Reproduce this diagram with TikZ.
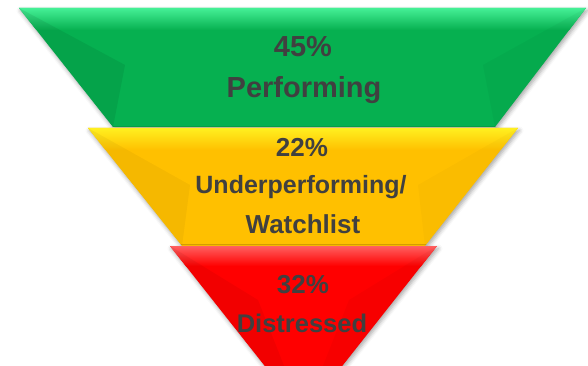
\documentclass[tikz,border=0pt]{standalone}
\usepackage{fontspec}
\setmainfont{Liberation Sans}
\usetikzlibrary{shadows.blur}

\definecolor{txtgray}{HTML}{404040}
\definecolor{perfgreen}{HTML}{06B050}
\definecolor{perfgreenhi}{HTML}{45F096}
\definecolor{watchyellow}{HTML}{FFC000}
\definecolor{watchyellowhi}{HTML}{FFF020}
\definecolor{distred}{HTML}{FF0000}
\definecolor{distredhi}{HTML}{FF6060}

\tikzset{
  layer/.style={blur shadow={shadow xshift=1.5pt, shadow yshift=-2.5pt,
      shadow blur radius=4pt, shadow opacity=35}},
  facet/.style={fill=black, fill opacity=#1},
  lbl/.style={text=txtgray, font=\bfseries, anchor=base, inner sep=0pt},
}

\begin{document}
\begin{tikzpicture}[x=1pt, y=-1pt]
    \useasboundingbox (0,0) rectangle (588,366);
    \clip (0,0) rectangle (588,366);

    % top band: performing
    \fill[perfgreen, layer] (19,8) -- (586,8) -- (495,127) -- (113,127) -- cycle;
    \begin{scope}
        \clip (19,8) -- (586,8) -- (495,127) -- (113,127) -- cycle;
        \shade[top color=perfgreenhi, bottom color=perfgreen] (0,8) rectangle (588,30);
        \fill[facet=.07] (19,8) -- (125,65) -- (113,127) -- cycle;
        \fill[facet=.03] (586,8) -- (483,65) -- (495,127) -- cycle;
    \end{scope}

    % middle band: underperforming
    \fill[watchyellow, layer] (88,128) -- (518,128) -- (425,246) -- (182,246) -- cycle;
    \begin{scope}
        \clip (88,128) -- (518,128) -- (425,246) -- (182,246) -- cycle;
        \shade[top color=watchyellowhi, bottom color=watchyellow] (0,128) rectangle (588,150);
        \fill[facet=.04] (88,128) -- (190,185) -- (182,246) -- cycle;
        \fill[facet=.02] (518,128) -- (418,185) -- (425,246) -- cycle;
    \end{scope}

    % bottom tip: distressed
    \fill[distred, layer] (170,246) -- (437,246) -- (303.5,415) -- cycle;
    \begin{scope}
        \clip (170,246) -- (437,246) -- (303.5,415) -- cycle;
        \shade[top color=distredhi, bottom color=distred] (0,246) rectangle (588,266);
        \fill[facet=.05] (170,246) -- (258,300) -- (303.5,415) -- cycle;
        \fill[facet=.03] (437,246) -- (349,300) -- (303.5,415) -- cycle;
    \end{scope}

    % labels
    \node[lbl, font=\bfseries\fontsize{29}{34}\selectfont] (gpct) at (303,57) {45\%};
    \node[lbl, font=\bfseries\fontsize{29}{34}\selectfont] (gname) at (304,98) {Performing};

    \node[lbl, font=\bfseries\fontsize{26}{31}\selectfont] (ypct) at (302,157) {22\%};
    \node[lbl, font=\bfseries\fontsize{25}{30}\selectfont] (yname) at (301,193) {Underperforming/};
    \node[lbl, font=\bfseries\fontsize{26}{31}\selectfont] (ynametwo) at (303,233) {Watchlist};

    \node[lbl, font=\bfseries\fontsize{26}{31}\selectfont] (rpct) at (303,293) {32\%};
    \node[lbl, font=\bfseries\fontsize{25.5}{30}\selectfont] (rname) at (302,332) {Distressed};
\end{tikzpicture}
\end{document}
